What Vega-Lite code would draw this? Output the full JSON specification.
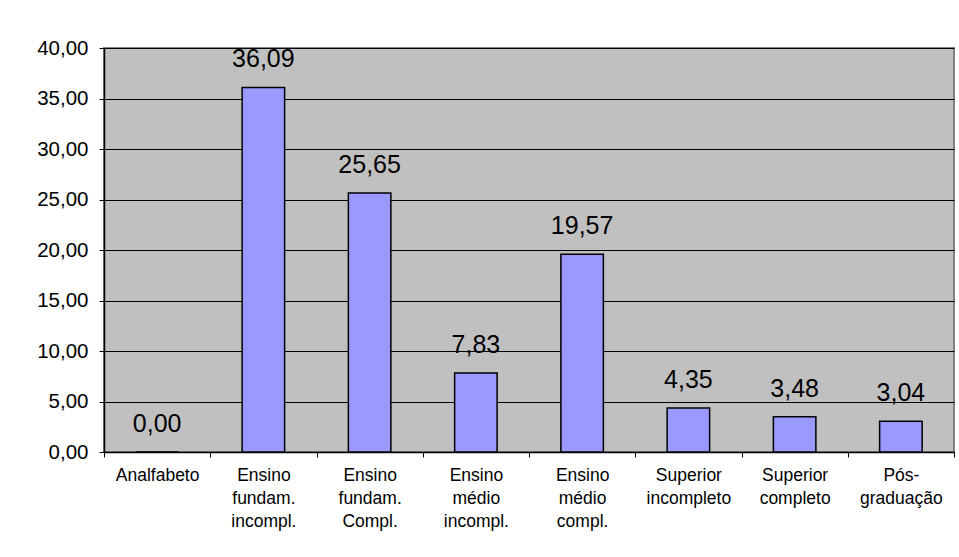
{
  "$schema": "https://vega.github.io/schema/vega-lite/v6.json",
  "width": 850,
  "height": 404,
  "autosize": {"type": "none"},
  "padding": {"left": 104, "top": 48, "right": 5, "bottom": 105},
  "background": "white",
  "config": {
    "locale": {"number": {"decimal": ",", "thousands": ".", "grouping": [3], "currency": ["R$", ""]}},
    "font": "Liberation Sans",
    "view": {"fill": "#C0C0C0", "stroke": "#808080", "strokeWidth": 2}
  },
  "data": {
    "values": [
      {"cat": "Analfabeto", "v": 0.0},
      {"cat": "Ensino|fundam.|incompl.", "v": 36.09},
      {"cat": "Ensino|fundam.|Compl.", "v": 25.65},
      {"cat": "Ensino|médio|incompl.", "v": 7.83},
      {"cat": "Ensino|médio|compl.", "v": 19.57},
      {"cat": "Superior|incompleto", "v": 4.35},
      {"cat": "Superior|completo", "v": 3.48},
      {"cat": "Pós-|graduação", "v": 3.04}
    ]
  },
  "encoding": {
    "x": {
      "field": "cat", "type": "nominal", "sort": null,
      "scale": {"paddingInner": 0, "paddingOuter": 0},
      "axis": {
        "title": null, "labelAngle": 0,
        "labelExpr": "split(datum.label, '|')",
        "labelFont": "Liberation Sans", "labelFontSize": 17.5, "labelColor": "black",
        "labelLineHeight": 23, "labelPadding": 9,
        "tickBand": "extent", "tickSize": 5, "tickColor": "black", "tickWidth": 1,
        "domainColor": "black", "domainWidth": 1.5
      }
    },
    "y": {
      "field": "v", "type": "quantitative",
      "scale": {"domain": [0, 40], "nice": false},
      "axis": {
        "title": null, "values": [0, 5, 10, 15, 20, 25, 30, 35, 40], "format": ".2f",
        "labelFont": "Liberation Sans", "labelFontSize": 20.5, "labelColor": "black", "labelPadding": 11,
        "tickSize": 5, "tickColor": "black", "grid": true, "gridColor": "black", "gridOpacity": 1, "gridWidth": 1,
        "domainColor": "black", "domainWidth": 1.5
      }
    }
  },
  "layer": [
    {
      "mark": {"type": "bar", "width": {"band": 0.4}, "fill": "#9999FF", "stroke": "black", "strokeWidth": 1.5}
    },
    {
      "mark": {"type": "text", "baseline": "alphabetic", "dy": -20, "fontSize": 25, "font": "Liberation Sans", "color": "black"},
      "encoding": {"text": {"field": "v", "type": "quantitative", "format": ".2f"}}
    }
  ]
}
